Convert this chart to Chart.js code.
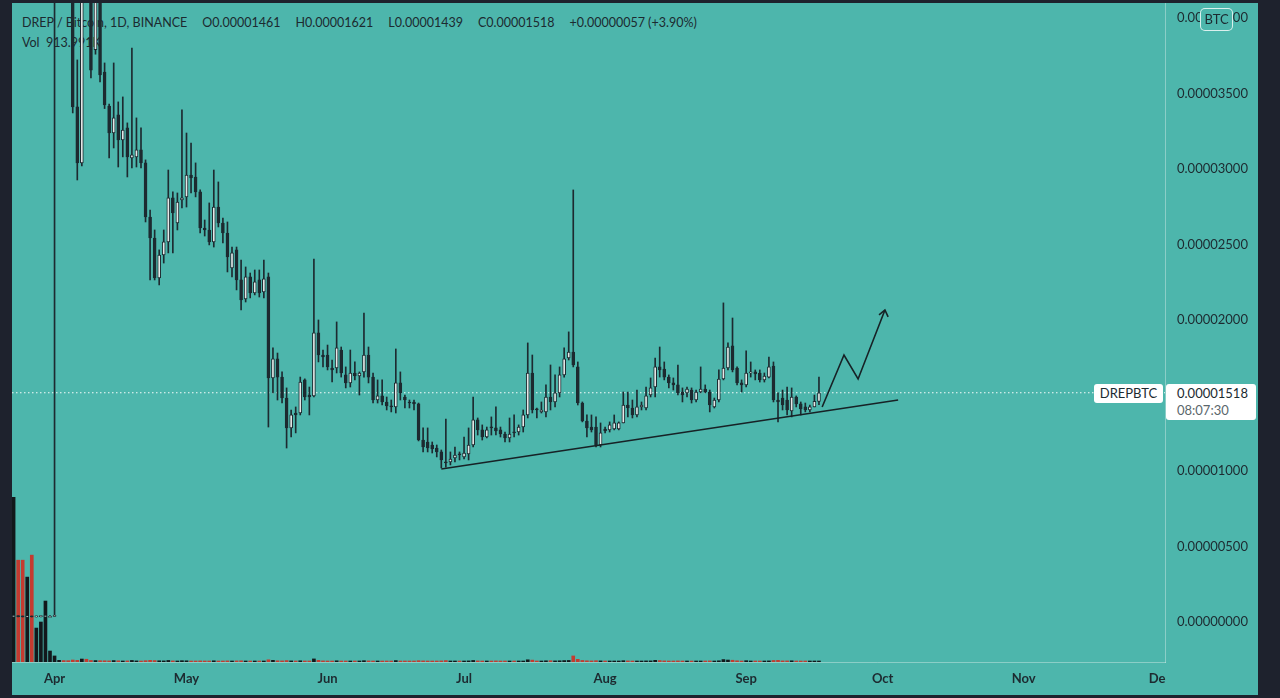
<!DOCTYPE html>
<html>
<head>
<meta charset="utf-8">
<title>DREP / Bitcoin, 1D, BINANCE</title>
<script src="https://cdn.jsdelivr.net/npm/chart.js@4.4.1/dist/chart.umd.min.js"></script>
<style>
  html, body { margin: 0; padding: 0; width: 1280px; height: 698px; overflow: hidden; background: #1e222d; }
  #wrap { position: absolute; left: 12px; top: 3px; width: 1246px; height: 692px; background: #4db6ac; }
  #chart { position: absolute; left: 0; top: 0; }
  #legend { position: absolute; left: 10px; top: 10px; font: 12.5px Lato, sans-serif; color: #1c2a30; line-height: 20px; white-space: pre; }
  #legend span { margin-right: 15px; }
  #btc { position: absolute; left: 1188px; top: 5px; width: 31px; height: 21px; border: 1px solid rgba(255,255,255,0.8); border-radius: 5px;
         background: #4db6ac; font: 13px Lato, sans-serif; color: #1c2a30; text-align: center; line-height: 21px; }
  #symbolBox { position: absolute; left: 1082px; width: 69px; height: 19px; background: #fff; border-radius: 3px;
               font: 13px Lato, sans-serif; color: #1c2a30; text-align: center; line-height: 19px; }
  #priceBox { position: absolute; left: 1154px; width: 90px; height: 36px; background: #fff; border-radius: 3px;
              font: 13px Lato, sans-serif; color: #1c2a30; line-height: 17px; box-sizing: border-box; padding: 1px 0 0 11px; }
  #priceBox .t { color: #5b676c; }
</style>
</head>
<body>
<div id="wrap">
  <div id="legend"></div>
  <canvas id="chart" width="1246" height="692"></canvas>
  <div id="btc">BTC</div>
  <div id="symbolBox">DREPBTC</div>
  <div id="priceBox"><div id="lastPrice"></div><div class="t">08:07:30</div></div>
</div>
<script>
// daily candles in satoshi (1e-8 BTC), day 0 = 1 Apr, first candle is day -8
const firstDay = -8;

const open = [
  35, 36, 35, 34, 35, 34, 35, 36, 37, 37,                  // -8 .. 1
  4800, 5100, 4600, 4450, 3411, 3040, 4300, 4300, 3790, 4150,   // 2 .. 11
  3642, 3417, 3238, 3358, 3192, 3272, 3073, 3080, 3126, 3040,
  2682, 2543, 2278, 2430, 2517, 2808, 2642, 2795, 2815, 2960,
  2947, 2848, 2609, 2596, 2517, 2748, 2642, 2576, 2344, 2464,
  2265, 2139, 2285, 2179, 2265, 2185, 2285, 1616, 1742, 1622,
  1483, 1285, 1384, 1384, 1603, 1503, 1497, 1914, 1768, 1768,
  1682, 1682, 1801, 1636, 1583, 1649, 1629, 1656, 1768, 1622,
  1470, 1497, 1457, 1430, 1424, 1583, 1490, 1457, 1457, 1444,
  1205, 1192, 1172, 1152, 1126, 1060, 1060, 1086, 1113, 1093,
  1113, 1172, 1338, 1272, 1225, 1291, 1285, 1272, 1245, 1219,
  1258, 1258, 1291, 1371, 1649, 1411, 1391, 1391, 1490, 1457,
  1517, 1636, 1748, 1788, 1689, 1450, 1331, 1291, 1291, 1172,
  1278, 1272, 1278, 1278, 1318, 1437, 1417, 1371, 1424, 1417,
  1503, 1556, 1689, 1675, 1622, 1583, 1570, 1523, 1517, 1536,
  1470, 1523, 1543, 1523, 1424, 1470, 1609, 1682, 1828, 1682,
  1583, 1570, 1649, 1656, 1649, 1603, 1622, 1695, 1470, 1483,
  1470, 1397, 1490, 1444, 1424, 1404, 1424, 1461            // 162 .. 169
];
const high = [
  36, 37, 36, 36, 36, 36, 37, 38, 38, 5200,
  5600, 5400, 4900, 4600, 3722, 4350, 4500, 4400, 4250, 4200,
  3702, 3430, 3702, 3444, 3477, 3305, 3801, 3338, 3272, 3060,
  2728, 2596, 2464, 2596, 2993, 2848, 2841, 3391, 3238, 3172,
  3040, 2861, 2662, 2775, 2993, 2914, 2675, 2649, 2483, 2483,
  2397, 2351, 2311, 2331, 2331, 2397, 2311, 1815, 1781, 1656,
  1550, 1404, 1424, 1622, 1610, 1556, 2404, 2000, 1801, 1834,
  1735, 1987, 1821, 1689, 1801, 1722, 1656, 2046, 1821, 1649,
  1603, 1603, 1490, 1470, 1808, 1656, 1503, 1470, 1470, 1450,
  1285, 1285, 1192, 1172, 1139, 1344, 1126, 1159, 1126, 1225,
  1285, 1490, 1351, 1305, 1291, 1358, 1424, 1291, 1258, 1351,
  1371, 1305, 1404, 1848, 1768, 1417, 1457, 1570, 1702, 1636,
  1689, 1815, 1921, 2861, 1722, 1457, 1371, 1371, 1358, 1318,
  1291, 1325, 1371, 1325, 1523, 1523, 1470, 1536, 1457, 1556,
  1616, 1748, 1821, 1722, 1636, 1616, 1702, 1550, 1556, 1550,
  1536, 1689, 1570, 1536, 1483, 1669, 2113, 1848, 2013, 1689,
  1603, 1795, 1722, 1669, 1669, 1649, 1755, 1722, 1517, 1536,
  1556, 1550, 1497, 1457, 1450, 1437, 1503, 1621
];
const low = [
  34, 34, 33, 33, 33, 33, 34, 35, 35, 36,
  4500, 4400, 4200, 3371, 2927, 3020, 4120, 3603, 3760, 3576,
  3400, 3073, 3139, 3013, 3080, 2947, 3007, 3013, 3007, 2649,
  2265, 2265, 2232, 2377, 2444, 2444, 2596, 2742, 2748, 2841,
  2815, 2576, 2556, 2497, 2483, 2616, 2510, 2318, 2285, 2199,
  2066, 2119, 2146, 2166, 2152, 2146, 1291, 1517, 1470, 1450,
  1152, 1225, 1252, 1371, 1470, 1371, 1490, 1722, 1689, 1669,
  1589, 1649, 1622, 1550, 1556, 1603, 1503, 1622, 1583, 1450,
  1450, 1437, 1404, 1391, 1384, 1470, 1417, 1417, 1404, 1199,
  1126, 1126, 1119, 1093, 1020, 1026, 1040, 1060, 1073, 1079,
  1073, 1159, 1238, 1205, 1219, 1238, 1238, 1225, 1192, 1192,
  1225, 1238, 1258, 1351, 1384, 1351, 1384, 1358, 1404, 1424,
  1490, 1622, 1735, 1689, 1437, 1325, 1225, 1258, 1159, 1159,
  1252, 1258, 1272, 1272, 1318, 1358, 1351, 1358, 1404, 1404,
  1490, 1490, 1622, 1603, 1550, 1536, 1503, 1457, 1490, 1450,
  1457, 1517, 1517, 1391, 1417, 1457, 1603, 1669, 1656, 1570,
  1523, 1556, 1622, 1603, 1589, 1589, 1616, 1457, 1325, 1404,
  1371, 1358, 1424, 1371, 1391, 1391, 1424, 1439
];
const close = [
  36, 35, 34, 35, 34, 35, 36, 37, 37, 40,
  5100, 4600, 4450, 3411, 3040, 4200, 4200, 3655, 4150, 3622,
  3424, 3238, 3338, 3192, 3258, 3080, 3093, 3126, 3040, 2682,
  2543, 2278, 2430, 2517, 2808, 2709, 2781, 2808, 2960, 2940,
  2848, 2609, 2596, 2517, 2748, 2642, 2576, 2417, 2444, 2265,
  2132, 2285, 2179, 2252, 2179, 2272, 1616, 1742, 1622, 1483,
  1285, 1371, 1371, 1589, 1490, 1490, 1914, 1768, 1755, 1689,
  1669, 1815, 1649, 1583, 1649, 1629, 1649, 1768, 1622, 1470,
  1497, 1457, 1430, 1424, 1583, 1517, 1470, 1450, 1444, 1205,
  1159, 1152, 1146, 1126, 1073, 1053, 1079, 1106, 1106, 1119,
  1172, 1338, 1272, 1225, 1272, 1285, 1265, 1245, 1219, 1245,
  1252, 1291, 1371, 1649, 1404, 1404, 1404, 1490, 1457, 1517,
  1636, 1742, 1788, 1702, 1450, 1331, 1285, 1272, 1172, 1252,
  1265, 1305, 1318, 1318, 1437, 1417, 1371, 1424, 1437, 1497,
  1550, 1689, 1669, 1622, 1583, 1570, 1517, 1503, 1543, 1470,
  1523, 1543, 1523, 1437, 1470, 1609, 1682, 1821, 1669, 1583,
  1570, 1649, 1656, 1642, 1603, 1629, 1689, 1470, 1457, 1437,
  1404, 1490, 1444, 1411, 1404, 1424, 1461, 1518
];
// volume in thousands of DREP
const volume = [
  150000, 92700, 92700, 77300, 97300, 30900, 36400, 55500, 10000, 5500,
  1500, 1300, 1200, 1800, 1500, 2700, 2500, 1400, 1300, 1200,
  1100, 1000, 1300, 1100, 900, 1000, 1400, 1000, 900, 1200,
  1500, 1300, 1100, 1000, 1400, 1000, 900, 1200, 1100, 900,
  800, 1000, 800, 900, 1100, 900, 800, 1000, 900, 1000,
  1100, 900, 800, 800, 700, 800, 2000, 1500, 1100, 1000,
  1300, 1000, 800, 1100, 900, 800, 2800, 1500, 1000, 900,
  800, 1100, 900, 800, 900, 700, 700, 1200, 1000, 900,
  800, 800, 700, 700, 1300, 900, 700, 600, 600, 1200,
  1000, 900, 700, 700, 1000, 1300, 800, 700, 600, 900,
  1000, 1400, 1000, 800, 700, 800, 1000, 700, 700, 900,
  800, 700, 900, 2000, 1700, 900, 800, 1100, 1200, 1000,
  1100, 1300, 1400, 5500, 2400, 1400, 1100, 1000, 1200, 1000,
  700, 800, 800, 700, 1200, 1000, 800, 900, 700, 1000,
  1000, 1500, 1300, 1000, 800, 800, 1000, 800, 700, 800,
  700, 900, 700, 1000, 800, 1100, 2200, 1800, 1600, 1100,
  900, 1200, 900, 700, 800, 700, 1000, 1400, 1500, 1000,
  1000, 1100, 800, 800, 700, 700, 800, 913.991
];

// month labels sit on the first bar of each month
const monthDays = [1, 30, 61, 91, 122, 153, 183, 214, 244];
const monthLabels = ['Apr', 'May', 'Jun', 'Jul', 'Aug', 'Sep', 'Oct', 'Nov', 'Dec'];
const priceTicks = [0, 500, 1000, 1500, 2000, 2500, 3000, 3500, 4000];

// hand drawn trend line and the arrow (day, satoshi)
const trendLine = [{ x: 86, y: 1013 }, { x: 186.4, y: 1470 }];
const arrowPath = [{ x: 169.7, y: 1424 }, { x: 174.5, y: 1768 }, { x: 177.6, y: 1609 }, { x: 183.5, y: 2066 }];
const arrowHead = [{ x: 182.2, y: 2033 }, { x: 183.5, y: 2066 }, { x: 184.2, y: 2020 }];

const DARK = '#1d2a30';
const TEAL = '#4db6ac';
const days = open.map((_, i) => firstDay + i);
const isUp = close.map((c, i) => c >= open[i]);
const last = close.length - 1;
const xMin = -8.35, xMax = 245.05;

const sat = v => (v / 1e8).toFixed(8);

// legend line from the last candle
const chg = close[last] - close[last - 1];
document.getElementById('legend').innerHTML =
  '<span>DREP / Bitcoin, 1D, BINANCE</span>' +
  '<span>O' + sat(open[last]) + '</span>' +
  '<span>H' + sat(high[last]) + '</span>' +
  '<span>L' + sat(low[last]) + '</span>' +
  '<span>C' + sat(close[last]) + '</span>' +
  '<span>' + (chg >= 0 ? '+' : '') + sat(chg) + ' (' + (chg >= 0 ? '+' : '') + (chg / close[last - 1] * 100).toFixed(2) + '%)</span>\n' +
  'Vol  ' + volume[last].toFixed(3) + 'K';
document.getElementById('lastPrice').textContent = sat(close[last]);

// hide the part of the last month label that runs under the price axis
const coverAxisCorner = {
  id: 'coverAxisCorner',
  afterDraw(chart) {
    const { ctx, chartArea } = chart;
    ctx.save();
    ctx.fillStyle = TEAL;
    ctx.fillRect(chartArea.right + 1, chartArea.bottom + 1, chart.width, chart.height);
    ctx.restore();
  }
};

const lineDs = (data, order) => ({
  type: 'line', data, order,
  borderColor: '#172226', borderWidth: 1.6, pointRadius: 0, tension: 0
});

const chart = new Chart(document.getElementById('chart'), {
  type: 'bar',
  data: {
    datasets: [
      lineDs(trendLine, 1),
      lineDs(arrowPath, 1),
      lineDs(arrowHead, 1),
      {
        label: 'body', order: 4,
        data: days.map((d, i) => ({ x: d, y: [open[i], close[i]] })),
        backgroundColor: isUp.map(u => u ? '#e4e9e8' : DARK),
        borderColor: DARK, borderWidth: 1, borderSkipped: false,
        barThickness: 3, minBarLength: 1, grouped: false
      },
      {
        label: 'wick', order: 5,
        data: days.map((d, i) => ({ x: d, y: [low[i], high[i]] })),
        backgroundColor: DARK, barThickness: 1, minBarLength: 1, grouped: false
      },
      {
        label: 'volume', order: 9, yAxisID: 'yv',
        data: days.map((d, i) => ({ x: d, y: volume[i] })),
        backgroundColor: isUp.map(u => u ? '#12181b' : '#c43b30'),
        barThickness: 3, minBarLength: 1, grouped: false
      },
      {
        type: 'line', order: 10,
        data: [{ x: xMin, y: close[last] }, { x: xMax, y: close[last] }],
        borderColor: 'rgba(255,255,255,0.95)', borderWidth: 1, borderDash: [1.5, 2.5], pointRadius: 0
      }
    ]
  },
  options: {
    responsive: false,
    animation: false,
    layout: { padding: 0 },
    plugins: { legend: { display: false }, tooltip: { enabled: false } },
    scales: {
      x: {
        type: 'linear', min: xMin, max: xMax, offset: false,
        afterBuildTicks: s => { s.ticks = monthDays.map(v => ({ value: v })); },
        afterFit: s => { s.height = 33; s.paddingLeft = 0; s.paddingRight = 0; },
        grid: { display: false, drawTicks: false },
        border: { display: true, color: 'rgba(215,235,232,0.45)' },
        ticks: {
          autoSkip: false, maxRotation: 0, padding: 9, color: DARK,
          font: { family: 'Lato', size: 13, weight: 'bold' },
          callback: (v, i) => monthLabels[i]
        }
      },
      y: {
        position: 'right', min: -265, max: 4099,
        afterBuildTicks: s => { s.ticks = priceTicks.map(v => ({ value: v })); },
        afterFit: s => { s.width = 93; s.paddingTop = 0; s.paddingBottom = 0; },
        grid: { display: false, drawTicks: false },
        border: { display: true, color: 'rgba(215,235,232,0.45)' },
        ticks: {
          padding: 12, color: DARK,
          font: { family: 'Lato', size: 13 },
          callback: v => sat(v)
        }
      },
      yv: { display: false, min: 0, max: 600000 }
    }
  },
  plugins: [coverAxisCorner]
});

// price labels sit on the last close
const py = chart.scales.y.getPixelForValue(close[last]);
document.getElementById('symbolBox').style.top = (py - 9) + 'px';
document.getElementById('priceBox').style.top = (py - 9) + 'px';
</script>
</body>
</html>
